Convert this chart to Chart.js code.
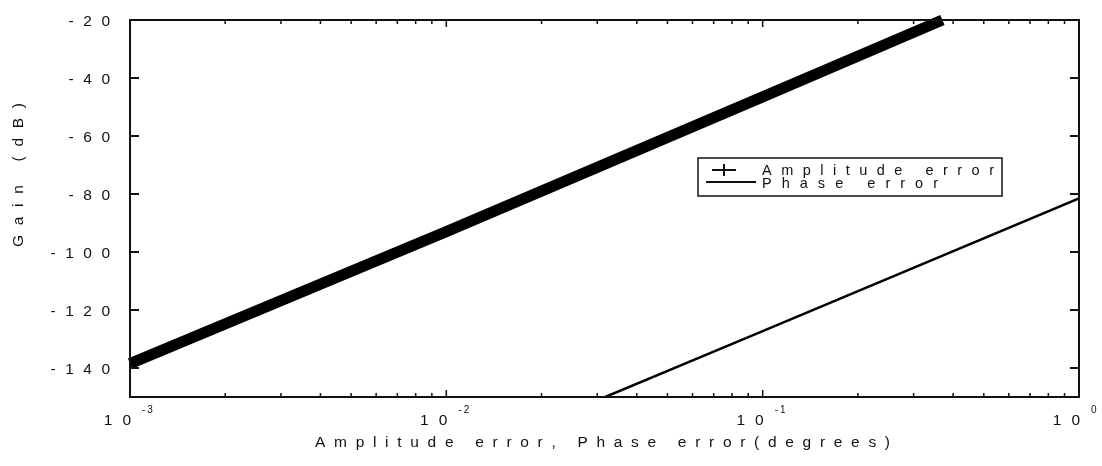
<!DOCTYPE html>
<html>
<head>
<meta charset="utf-8">
<script src="https://cdn.jsdelivr.net/npm/chart.js@4/dist/chart.umd.min.js"></script>
<style>
  html, body { margin: 0; padding: 0; background: #fff; }
  #wrap { width: 1102px; height: 466px; }
</style>
</head>
<body>
<div id="wrap"><canvas id="c" width="1102" height="466"></canvas></div>
<script>
// Gain versus error, both curves on a log error axis
const ampErr = [0.001, 0.01, 0.1, 0.37];
const ampGain = [-138.5, -93, -46.5, -20];
const phaseErr = [0.0318, 0.1, 1];
const phaseGain = [-150, -127.3, -81.5];

const yTickValues = [-20, -40, -60, -80, -100, -120, -140];
const xDecades = [-3, -2, -1, 0];
const legendLabels = ['Amplitude error', 'Phase error'];
const xTitle = 'Amplitude error, Phase error(degrees)';
const yTitle = 'Gain (dB)';

const FONT = '"Liberation Sans", Arial, sans-serif';
const INK = '#111';

function charsWidth(ctx, text) {
  let w = 0;
  for (const ch of text) w += ctx.measureText(ch).width;
  return w;
}
// Draw text one glyph at a time with extra tracking between glyphs
function drawSpaced(ctx, text, x, y, sp) {
  for (const ch of text) {
    ctx.fillText(ch, x, y);
    x += ctx.measureText(ch).width + sp;
  }
}
function spacedWidth(ctx, text, sp) {
  return charsWidth(ctx, text) + sp * (text.length - 1);
}
// Spread text so it spans the given width
function drawFit(ctx, text, x, y, width) {
  const n = [...text].length;
  const sp = (width - charsWidth(ctx, text)) / (n - 1);
  drawSpaced(ctx, text, x, y, sp);
}

const framePlugin = {
  id: 'frame',
  afterDraw(chart) {
    const ctx = chart.ctx;
    const { left, right, top, bottom } = chart.chartArea;
    const xs = chart.scales.x, ys = chart.scales.y;
    ctx.save();
    ctx.strokeStyle = INK;
    ctx.fillStyle = INK;

    // plot frame
    ctx.lineWidth = 2;
    ctx.strokeRect(left, top, right - left, bottom - top);

    // y ticks on both sides, pointing inward
    ctx.lineWidth = 2;
    for (const v of yTickValues) {
      const py = Math.round(ys.getPixelForValue(v));
      ctx.beginPath();
      ctx.moveTo(left, py); ctx.lineTo(left + 9, py);
      ctx.moveTo(right, py); ctx.lineTo(right - 9, py);
      ctx.stroke();
    }

    // x log ticks on top and bottom, pointing inward
    ctx.lineWidth = 1.5;
    for (const d of xDecades.slice(0, -1)) {
      for (let m = 1; m <= 9; m++) {
        const px = xs.getPixelForValue(m * Math.pow(10, d));
        const len = m === 1 ? 7 : 4;
        ctx.beginPath();
        ctx.moveTo(px, bottom); ctx.lineTo(px, bottom - len);
        ctx.moveTo(px, top); ctx.lineTo(px, top + len);
        ctx.stroke();
      }
    }

    // y tick labels
    ctx.font = '15.5px ' + FONT;
    ctx.textBaseline = 'middle';
    ctx.textAlign = 'left';
    for (const v of yTickValues) {
      const py = ys.getPixelForValue(v);
      const s = String(v);
      const w = spacedWidth(ctx, s, 9.5);
      drawSpaced(ctx, s, left - 20 - w, py + 1.5, 9.5);
    }

    // x tick labels: 10 with a raised exponent
    ctx.textBaseline = 'alphabetic';
    for (const d of xDecades) {
      const px = xs.getPixelForValue(Math.pow(10, d));
      ctx.font = '15.5px ' + FONT;
      const w = spacedWidth(ctx, '10', 10);
      drawSpaced(ctx, '10', px - w + 1, 425, 10);
      ctx.font = '10px ' + FONT;
      drawSpaced(ctx, String(d), px + 12, 413, 2);
    }

    // axis titles
    ctx.font = '15.5px ' + FONT;
    drawFit(ctx, xTitle, 315, 447, 575);

    ctx.save();
    ctx.translate(23, 247);
    ctx.rotate(-Math.PI / 2);
    drawFit(ctx, yTitle, 0, 0, 144);
    ctx.restore();

    // legend box
    ctx.fillStyle = '#fff';
    ctx.fillRect(698, 158, 304, 38);
    ctx.fillStyle = INK;
    ctx.lineWidth = 1.5;
    ctx.strokeRect(698, 158, 304, 38);

    ctx.lineWidth = 2;
    ctx.beginPath();
    ctx.moveTo(712, 170); ctx.lineTo(736, 170);
    ctx.moveTo(724, 164); ctx.lineTo(724, 176);
    ctx.stroke();
    ctx.beginPath();
    ctx.moveTo(706, 182); ctx.lineTo(756, 182);
    ctx.stroke();

    ctx.font = '14.5px ' + FONT;
    drawFit(ctx, legendLabels[0], 762, 175, 232);
    drawFit(ctx, legendLabels[1], 762, 188, 176);

    ctx.restore();
  }
};

new Chart(document.getElementById('c'), {
  type: 'line',
  data: {
    datasets: [
      {
        label: legendLabels[0],
        data: ampErr.map((x, i) => ({ x, y: ampGain[i] })),
        borderColor: '#000',
        borderWidth: 11,
        pointRadius: 0,
        tension: 0,
        clip: false
      },
      {
        label: legendLabels[1],
        data: phaseErr.map((x, i) => ({ x, y: phaseGain[i] })),
        borderColor: '#000',
        borderWidth: 2.5,
        pointRadius: 0,
        tension: 0
      }
    ]
  },
  options: {
    responsive: false,
    animation: false,
    devicePixelRatio: 1,
    layout: { padding: { top: 20, right: 23, left: 0, bottom: 0 } },
    plugins: { legend: { display: false }, tooltip: { enabled: false } },
    scales: {
      x: {
        type: 'logarithmic',
        min: 0.001,
        max: 1,
        ticks: { display: false },
        grid: { display: false },
        border: { display: false },
        afterFit(s) { s.height = 69; }
      },
      y: {
        type: 'linear',
        min: -150,
        max: -20,
        ticks: { display: false },
        grid: { display: false },
        border: { display: false },
        afterFit(s) { s.width = 130; }
      }
    }
  },
  plugins: [framePlugin]
});
</script>
</body>
</html>
